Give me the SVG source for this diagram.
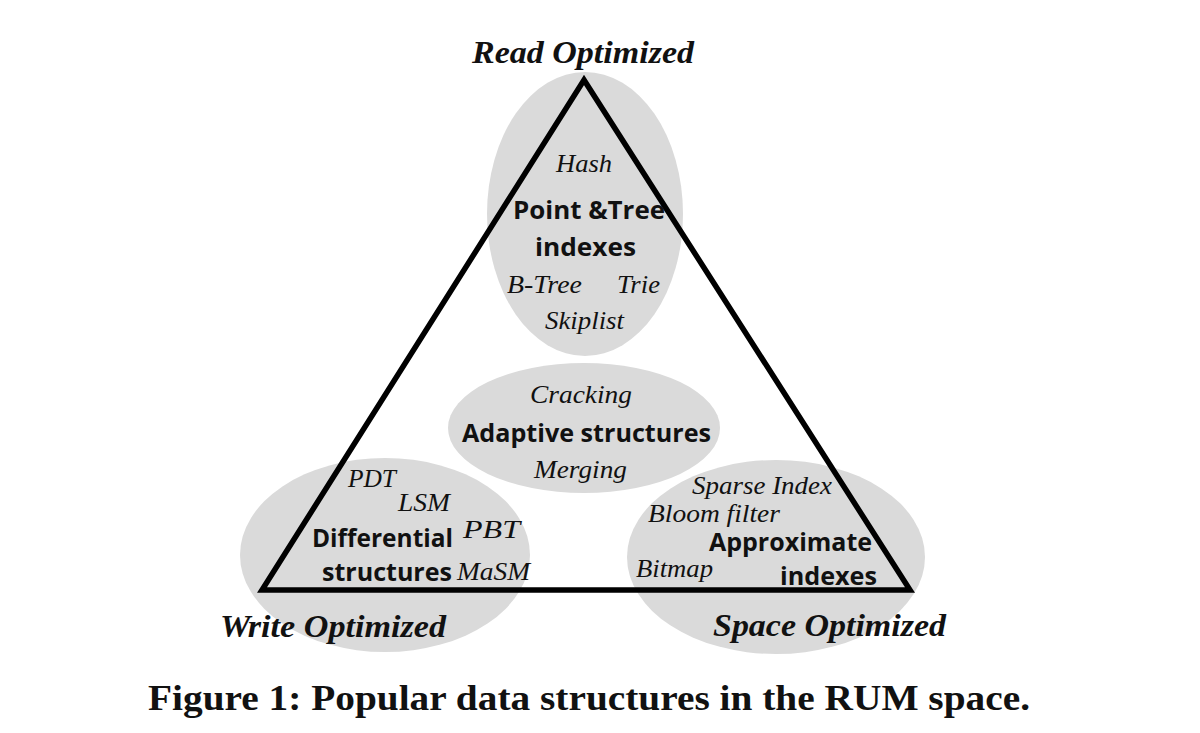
<svg xmlns="http://www.w3.org/2000/svg" width="1200" height="733" viewBox="0 0 1200 733">
<style>
.blob{fill:#dadada}
.it{font-family:"Liberation Serif","Times New Roman",serif;font-style:italic;font-size:26px;fill:#111}
.bd{font-family:"Open Sans","Liberation Sans",sans-serif;font-weight:bold;font-size:25px;fill:#111}
.corner{font-family:"Liberation Serif","Times New Roman",serif;font-style:italic;font-weight:bold;font-size:31px;fill:#111}
.cap{font-family:"Liberation Serif","Times New Roman",serif;font-weight:bold;font-size:36px;fill:#111}
</style>
<rect width="1200" height="733" fill="#fff"/>
<g id="blobs">
<ellipse class="blob" cx="585" cy="214" rx="98" ry="142"/>
<ellipse class="blob" cx="584" cy="428" rx="136" ry="65"/>
<ellipse class="blob" cx="385" cy="555" rx="145" ry="97"/>
<ellipse class="blob" cx="776" cy="557" rx="149" ry="97"/>
</g>
<g id="connectors">
<polygon points="584,80 262,590 910,590" fill="none" stroke="#000" stroke-width="5.5" stroke-linejoin="miter"/>
</g>
<g id="read-optimized">
<text class="corner" x="472" y="63" textLength="222" lengthAdjust="spacingAndGlyphs">Read Optimized</text>
</g>
<g id="write-optimized">
<text class="corner" x="220" y="637" textLength="226" lengthAdjust="spacingAndGlyphs">Write Optimized</text>
</g>
<g id="space-optimized">
<text class="corner" x="713" y="636" textLength="233" lengthAdjust="spacingAndGlyphs">Space Optimized</text>
</g>
<g id="point-tree">
<text class="it" x="556" y="172" textLength="56" lengthAdjust="spacingAndGlyphs">Hash</text>
<text class="bd" x="513" y="219" textLength="152" lengthAdjust="spacingAndGlyphs">Point &amp;Tree</text>
<text class="bd" x="535" y="256" textLength="101" lengthAdjust="spacingAndGlyphs">indexes</text>
<text class="it" x="507" y="293" textLength="75" lengthAdjust="spacingAndGlyphs">B-Tree</text>
<text class="it" x="617" y="293" textLength="43" lengthAdjust="spacingAndGlyphs">Trie</text>
<text class="it" x="545" y="329" textLength="79" lengthAdjust="spacingAndGlyphs">Skiplist</text>
</g>
<g id="adaptive">
<text class="it" x="530" y="403" textLength="102" lengthAdjust="spacingAndGlyphs">Cracking</text>
<text class="bd" x="462" y="442" textLength="249" lengthAdjust="spacingAndGlyphs">Adaptive structures</text>
<text class="it" x="534" y="478" textLength="93" lengthAdjust="spacingAndGlyphs">Merging</text>
</g>
<g id="differential">
<text class="it" x="348" y="487" textLength="48" lengthAdjust="spacingAndGlyphs">PDT</text>
<text class="it" x="398" y="511" textLength="52" lengthAdjust="spacingAndGlyphs">LSM</text>
<text class="it" x="463" y="538" textLength="57" lengthAdjust="spacingAndGlyphs">PBT</text>
<text class="bd" x="312" y="547" textLength="141" lengthAdjust="spacingAndGlyphs">Differential</text>
<text class="bd" x="322" y="581" textLength="130" lengthAdjust="spacingAndGlyphs">structures</text>
<text class="it" x="457" y="580" textLength="73" lengthAdjust="spacingAndGlyphs">MaSM</text>
</g>
<g id="approximate">
<text class="it" x="692" y="494" textLength="140" lengthAdjust="spacingAndGlyphs">Sparse Index</text>
<text class="it" x="648" y="522" textLength="132" lengthAdjust="spacingAndGlyphs">Bloom filter</text>
<text class="bd" x="709" y="551" textLength="163" lengthAdjust="spacingAndGlyphs">Approximate</text>
<text class="it" x="636" y="577" textLength="77" lengthAdjust="spacingAndGlyphs">Bitmap</text>
<text class="bd" x="780" y="585" textLength="97" lengthAdjust="spacingAndGlyphs">indexes</text>
</g>
<g id="caption">
<text class="cap" x="148" y="710" textLength="882" lengthAdjust="spacingAndGlyphs">Figure 1: Popular data structures in the RUM space.</text>
</g>
</svg>
